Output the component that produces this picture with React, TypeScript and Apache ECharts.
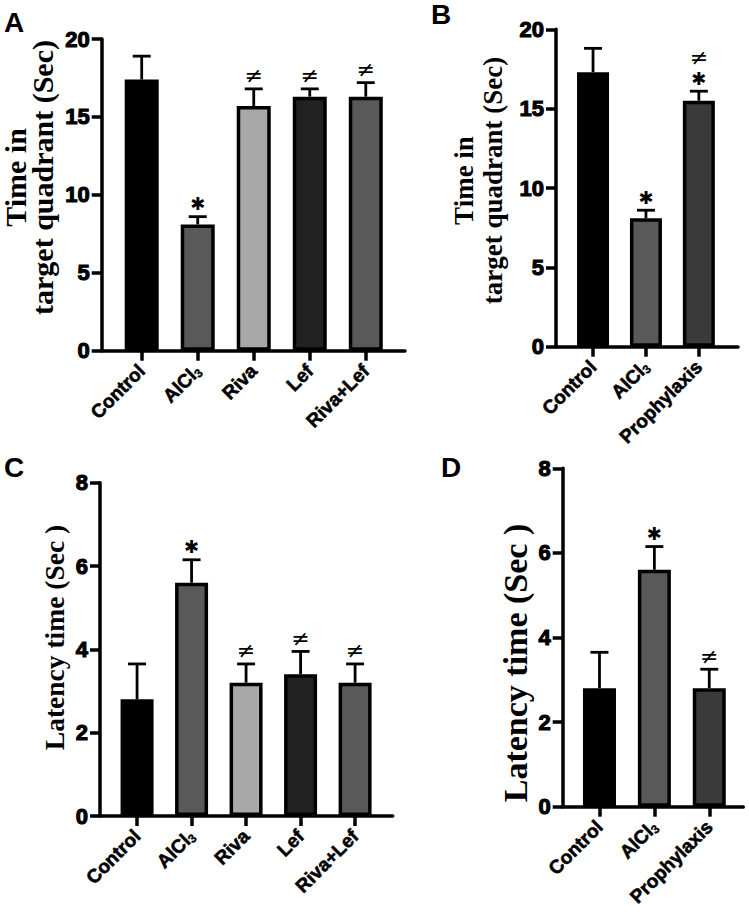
import React, { useEffect, useRef } from "react";
import * as echarts from "echarts";

// ---- data ----
const catsA = ["Control", "AlCl3", "Riva", "Lef", "Riva+Lef"];
const meanA = [17.4, 8.1, 15.7, 16.3, 16.3];
const semA = [1.5, 0.5, 1.1, 0.5, 0.9];
const sigA = [[], ["*"], ["≠"], ["≠"], ["≠"]];

const catsB = ["Control", "AlCl3", "Prophylaxis"];
const meanB = [17.3, 8.1, 15.5];
const semB = [1.5, 0.5, 0.6];
const sigB = [[], ["*"], ["*", "≠"]];

const catsC = ["Control", "AlCl3", "Riva", "Lef", "Riva+Lef"];
const meanC = [2.8, 5.6, 3.2, 3.4, 3.2];
const semC = [0.85, 0.55, 0.45, 0.55, 0.45];
const sigC = [[], ["*"], ["≠"], ["≠"], ["≠"]];

const catsD = ["Control", "AlCl3", "Prophylaxis"];
const meanD = [2.8, 5.6, 2.8];
const semD = [0.85, 0.55, 0.45];
const sigD = [[], ["*"], ["≠"]];

const ticksTime = { max: 20, interval: 5 };
const ticksLatency = { max: 8, interval: 2 };

// ---- styles ----
const fillFive = ["#000000", "#595959", "#a8a8a8", "#222222", "#595959"];
const fillThree = ["#000000", "#595959", "#3a3a3a"];

const SANS = "Liberation Sans";
const SERIF = "Liberation Serif";
const AXIS_W = 3.5;

const panels = [
  { cats: catsA, mean: meanA, sem: semA, sig: sigA, fill: fillFive, ticks: ticksTime,
    grid: { left: 101.7, top: 39, width: 303.3, height: 311.7 }, xr: [-0.714, 4.7], barW: 34 },
  { cats: catsB, mean: meanB, sem: semB, sig: sigB, fill: fillThree, ticks: ticksTime,
    grid: { left: 556, top: 29.3, width: 182, height: 317.4 }, xr: [-0.7, 2.74], barW: 32 },
  { cats: catsC, mean: meanC, sem: semC, sig: sigC, fill: fillFive, ticks: ticksLatency,
    grid: { left: 100, top: 482.7, width: 292.7, height: 333.3 }, xr: [-0.68, 4.69], barW: 33 },
  { cats: catsD, mean: meanD, sem: semD, sig: sigD, fill: fillThree, ticks: ticksLatency,
    grid: { left: 562.7, top: 468.3, width: 180.6, height: 338.4 }, xr: [-0.67, 2.62], barW: 33 },
];

function buildOption() {
  const grid: any[] = [];
  const xAxis: any[] = [];
  const yAxis: any[] = [];
  const series: any[] = [];

  panels.forEach((p, i) => {
    grid.push({ ...p.grid });
    const idx = p.cats.map((_, k) => k);
    xAxis.push({
      type: "value",
      gridIndex: i,
      min: p.xr[0],
      max: p.xr[1],
      splitLine: { show: false },
      axisLine: { show: true, onZero: false, lineStyle: { color: "#000", width: AXIS_W } },
      axisTick: { show: true, customValues: idx, length: 10, lineStyle: { color: "#000", width: AXIS_W } },
      axisLabel: {
        show: true,
        customValues: idx,
        rotate: 45,
        margin: 17,
        color: "#000",
        fontFamily: SANS,
        fontWeight: "bold",
        fontSize: 19,
        lineHeight: 21,
        textBorderColor: "#000",
        textBorderWidth: 0.6,
        formatter: (v: number) => {
          const c = p.cats[Math.round(v)];
          return c === "AlCl3" ? "AlCl{sub|3}" : c;
        },
        rich: {
          sub: {
            fontFamily: SANS, fontWeight: "bold", fontSize: 12, color: "#000",
            textBorderColor: "#000", textBorderWidth: 0.4, verticalAlign: "bottom", lineHeight: 12,
          },
        },
      },
    });
    yAxis.push({
      type: "value",
      gridIndex: i,
      min: 0,
      max: p.ticks.max,
      interval: p.ticks.interval,
      splitLine: { show: false },
      axisLine: { show: true, onZero: false, lineStyle: { color: "#000", width: AXIS_W } },
      axisTick: { show: true, length: 10, lineStyle: { color: "#000", width: AXIS_W } },
      axisLabel: {
        margin: 12, color: "#000", fontFamily: SANS, fontWeight: "bold", fontSize: 22,
        formatter: (v: number) => "{n|" + v + "}",
        rich: {
          n: {
            fontFamily: SANS, fontWeight: "bold", fontSize: 22, color: "#000",
            textBorderColor: "#000", textBorderWidth: 1.1,
          },
        },
      },
    });
    series.push({
      type: "bar",
      xAxisIndex: i,
      yAxisIndex: i,
      barWidth: p.barW,
      data: p.mean.map((v, k) => ({
        value: [k, v],
        itemStyle: { color: p.fill[k], borderColor: "#000", borderWidth: 3.5 },
      })),
    });
    series.push({
      type: "custom",
      xAxisIndex: i,
      yAxisIndex: i,
      z: 3,
      data: p.mean.map((v, k) => [k, v, p.sem[k]]),
      renderItem: (params: any, api: any) => {
        const x = api.value(0);
        const y = api.value(1);
        const e = api.value(2);
        const p0 = api.coord([x, y]);
        const p1 = api.coord([x, y + e]);
        const children: any[] = [
          { type: "line", shape: { x1: p0[0], y1: p0[1], x2: p1[0], y2: p1[1] }, style: { stroke: "#000", lineWidth: 2.8 } },
          { type: "line", shape: { x1: p1[0] - 9, y1: p1[1], x2: p1[0] + 9, y2: p1[1] }, style: { stroke: "#000", lineWidth: 2.8 } },
        ];
        const marks: string[] = p.sig[params.dataIndex];
        marks.forEach((m, k) => {
          const star = m === "*";
          children.push({
            type: "text",
            x: p1[0],
            y: p1[1] - 13 - k * 21,
            style: {
              text: star ? "✱" : m,
              fill: "#000",
              fontFamily: "DejaVu Sans",
              fontSize: star ? 18 : 22,
              lineHeight: star ? 18 : 20,
              align: "center",
              verticalAlign: "middle",
            },
          });
        });
        return { type: "group", children };
      },
    });
  });

  const letter = (t: string, x: number, y: number) => ({
    type: "text",
    x,
    y,
    style: { text: t, fill: "#000", fontFamily: SANS, fontWeight: "bold", fontSize: 28, align: "center", verticalAlign: "middle" },
  });
  const ytitle = (t: string, x: number, y: number, fs: number, lh: number) => ({
    type: "text",
    x,
    y,
    rotation: Math.PI / 2,
    style: { text: t, fill: "#000", fontFamily: SERIF, fontWeight: "bold", fontSize: fs, lineHeight: lh, align: "center", verticalAlign: "middle" },
  });

  const graphic = [
    letter("A", 14, 22),
    letter("B", 441, 14),
    letter("C", 14, 467),
    letter("D", 451, 467),
    ytitle("Time in\ntarget quadrant (Sec)", 28.5, 177.5, 30, 27),
    ytitle("Time in\ntarget quadrant (Sec)", 478.5, 180.5, 27, 29),
    ytitle("Latency time (Sec )", 54, 637.5, 27.5, 30),
    ytitle("Latency time (Sec )", 515.5, 663, 34, 36),
  ];

  return {
    animation: false,
    backgroundColor: "#ffffff",
    grid,
    xAxis,
    yAxis,
    series,
    graphic,
  };
}

export default function App() {
  const ref = useRef<HTMLDivElement>(null);
  useEffect(() => {
    document.body.style.margin = "0";
    const chart = echarts.init(ref.current!, undefined, { renderer: "svg" });
    chart.setOption(buildOption() as any);
    return () => chart.dispose();
  }, []);
  return <div ref={ref} style={{ width: 749, height: 924 }} />;
}
